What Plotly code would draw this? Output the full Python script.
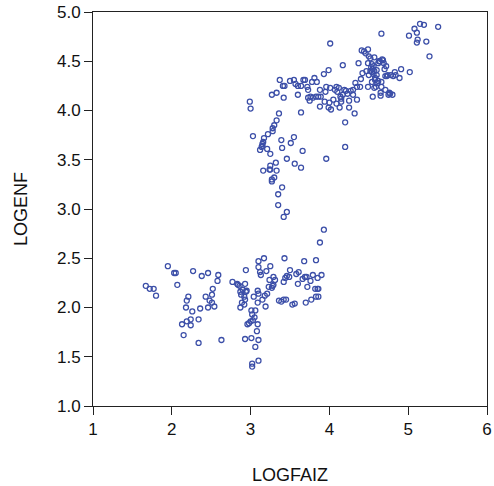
import plotly.graph_objects as go

# LOGFAIZ (x) and LOGENF (y) values
logfaiz = [
    # lower-left group
    1.67, 1.72, 1.77, 1.80, 1.95, 2.03, 2.05, 2.07, 2.13, 2.15, 2.18, 2.19, 2.19, 2.21, 2.24, 2.24,
    2.26, 2.27, 2.34, 2.34, 2.36, 2.38, 2.43, 2.46, 2.46, 2.48, 2.51, 2.51, 2.52, 2.54, 2.58, 2.59, 2.63,
    # lower-middle group
    2.77, 2.83, 2.84, 2.86, 2.87, 2.88, 2.87, 2.89, 2.90, 2.92, 2.92, 2.93, 2.93, 2.94, 2.94, 2.95,
    2.93, 2.96, 2.98, 3.00, 3.01, 3.01, 3.02, 3.03, 3.05, 3.04, 3.06, 3.06, 3.08, 3.09, 3.09, 3.09,
    3.10, 3.10, 3.02, 3.02, 3.10, 3.10, 3.10, 3.12, 3.13, 3.15, 3.17, 3.18, 3.19, 3.20, 3.21, 3.23,
    3.24, 3.25, 3.27, 3.28, 3.29, 3.29, 3.31, 3.36, 3.39, 3.42, 3.43, 3.42, 3.44, 3.45, 3.46, 3.49,
    3.50, 3.53, 3.56, 3.60, 3.58, 3.61, 3.66, 3.68, 3.69, 3.71, 3.72, 3.70, 3.76, 3.77, 3.79, 3.82,
    3.83, 3.83, 3.85, 3.85, 3.86, 3.86, 3.90, 3.88, 3.93,
    # middle vertical group
    3.35, 3.42, 3.46, 3.35, 3.40, 3.27, 3.27, 3.30, 3.16, 3.24, 3.25, 3.25, 3.33, 3.32, 3.46, 3.56,
    3.64, 3.96, 3.25, 3.12, 3.14, 3.15, 3.16, 3.15, 3.17, 3.21, 3.22, 3.03, 3.28, 3.28, 3.30, 3.33,
    3.36, 3.39, 3.40, 3.51, 3.55, 3.66, 4.20, 4.20, 3.64, 4.32,
    # upper group
    2.99, 3.00, 3.27, 3.33, 3.37, 3.41, 3.43, 3.42, 3.50, 3.55, 3.57, 3.60, 3.60, 3.64, 3.67, 3.69,
    3.72, 3.73, 3.73, 3.75, 3.76, 3.79, 3.78, 3.81, 3.84, 3.83, 3.86, 3.88, 3.88, 3.89, 3.93, 3.96,
    3.95, 3.94, 3.99, 4.01, 4.00, 3.99, 4.02, 4.01, 4.05, 4.07, 4.09, 4.10, 4.09, 4.12, 4.14, 4.13,
    4.15, 4.15, 4.17, 4.17, 4.19, 4.21, 4.23, 4.25, 4.25, 4.27, 4.30, 4.30, 4.33, 4.35, 4.35, 4.37,
    4.39, 4.40, 4.41, 4.42, 4.44, 4.46, 4.47, 4.49, 4.49, 4.49, 4.50, 4.50, 4.52, 4.52, 4.53, 4.54,
    4.54, 4.55, 4.56, 4.57, 4.57, 4.58, 4.59, 4.60, 4.61, 4.62, 4.63, 4.64, 4.65, 4.65, 4.66, 4.66,
    4.67, 4.68, 4.69, 4.70, 4.71, 4.71, 4.72, 4.73, 4.74, 4.75, 4.76, 4.77, 4.78, 4.80, 4.81, 4.83,
    4.84, 4.89, 4.91, 5.02, 4.66, 5.01, 5.08, 5.11, 5.12, 5.11, 5.15, 5.20, 5.23, 5.27, 5.38,
    4.55, 4.57, 4.56, 4.58, 4.54, 4.60, 4.62,
]

logenf = [
    # lower-left group
    2.22, 2.19, 2.19, 2.12, 2.42, 2.35, 2.35, 2.23, 1.83, 1.72, 2.00, 2.07, 1.86, 2.11, 1.82, 1.88,
    1.96, 2.37, 1.88, 1.64, 1.99, 2.32, 2.11, 2.35, 2.00, 2.07, 2.13, 2.05, 2.19, 2.01, 2.27, 2.33, 1.67,
    # lower-middle group
    2.26, 2.24, 2.23, 2.22, 2.16, 2.13, 2.00, 2.05, 2.18, 2.11, 2.03, 2.24, 2.08, 2.38, 2.16, 2.17,
    1.68, 1.83, 1.84, 1.86, 1.69, 1.97, 1.93, 1.87, 1.90, 2.11, 1.97, 1.60, 1.76, 1.83, 2.17, 2.05,
    1.67, 1.46, 1.43, 1.40, 2.14, 2.47, 2.41, 2.36, 2.33, 2.08, 2.50, 2.12, 2.01, 2.37, 2.14, 2.21,
    2.28, 2.42, 2.20, 2.22, 2.31, 2.23, 2.28, 2.07, 2.06, 2.08, 2.50, 2.26, 2.30, 2.08, 2.32, 2.31,
    2.38, 2.03, 2.04, 2.24, 2.34, 2.36, 2.29, 2.47, 2.31, 2.31, 2.21, 2.05, 2.27, 2.08, 2.33, 2.19,
    2.48, 2.11, 2.19, 2.30, 2.11, 2.19, 2.33, 2.66, 2.79,
    # middle vertical group
    3.04, 2.92, 2.97, 3.15, 3.22, 3.28, 3.30, 3.32, 3.39, 3.40, 3.44, 3.40, 3.39, 3.47, 3.51, 3.46,
    3.42, 3.51, 3.56, 3.60, 3.63, 3.64, 3.68, 3.66, 3.72, 3.61, 3.76, 3.74, 3.79, 3.82, 3.85, 3.90,
    3.97, 3.70, 3.62, 3.67, 3.73, 3.59, 3.63, 3.88, 3.98, 3.97,
    # upper group
    4.09, 4.02, 4.16, 4.18, 4.31, 4.25, 4.25, 4.13, 4.30, 4.31, 4.27, 4.16, 4.25, 4.25, 4.31, 4.31,
    4.24, 4.21, 4.13, 4.10, 4.14, 4.13, 4.29, 4.33, 4.29, 4.14, 4.14, 4.21, 4.04, 4.14, 4.37, 4.24,
    4.19, 4.09, 4.41, 4.23, 4.08, 4.03, 4.01, 4.68, 4.11, 4.21, 4.24, 4.19, 4.07, 4.23, 4.14, 4.03,
    4.09, 4.12, 4.46, 4.16, 4.21, 4.20, 4.17, 4.10, 4.03, 4.20, 4.21, 4.16, 4.28, 4.24, 4.11, 4.48,
    4.24, 4.32, 4.61, 4.38, 4.60, 4.58, 4.40, 4.62, 4.24, 4.48, 4.55, 4.36, 4.53, 4.40, 4.44, 4.39,
    4.29, 4.14, 4.45, 4.23, 4.54, 4.31, 4.24, 4.41, 4.28, 4.48, 4.50, 4.50, 4.18, 4.15, 4.29, 4.24,
    4.52, 4.51, 4.48, 4.42, 4.35, 4.21, 4.45, 4.35, 4.36, 4.16, 4.18, 4.17, 4.36, 4.16, 4.35, 4.39,
    4.36, 4.33, 4.42, 4.39, 4.78, 4.76, 4.83, 4.79, 4.72, 4.69, 4.88, 4.87, 4.70, 4.55, 4.85,
    4.42, 4.40, 4.37, 4.33, 4.47, 4.36, 4.30,
]

x_ticks = [1, 2, 3, 4, 5, 6]
y_ticks = [1.0, 1.5, 2.0, 2.5, 3.0, 3.5, 4.0, 4.5, 5.0]

fig = go.Figure(
    go.Scatter(
        x=logfaiz,
        y=logenf,
        mode="markers",
        marker=dict(
            symbol="circle-open",
            size=5,
            color="#3c4fa8",
            line=dict(width=1.3, color="#3c4fa8"),
        ),
        showlegend=False,
        cliponaxis=False,
    )
)

tick_font = dict(family="Liberation Sans, Arial, sans-serif", size=17, color="#111111")
title_font = dict(family="Liberation Sans, Arial, sans-serif", size=18, color="#111111")

fig.update_layout(
    width=494,
    height=486,
    margin=dict(l=93, r=7, t=12, b=80),
    paper_bgcolor="white",
    plot_bgcolor="white",
    font=tick_font,
    hovermode=False,
    xaxis=dict(
        range=[1, 6],
        tickvals=x_ticks,
        ticks="outside",
        ticklen=8,
        tickcolor="#222222",
        showline=True,
        linecolor="#222222",
        linewidth=1,
        mirror=True,
        showgrid=False,
        zeroline=False,
        automargin=False,
        ticklabeloverflow="allow",
        tickfont=tick_font,
        title=dict(text="LOGFAIZ", font=title_font, standoff=29),
    ),
    yaxis=dict(
        range=[1, 5],
        tickvals=y_ticks,
        tickformat=".1f",
        ticks="outside",
        ticklen=8,
        tickcolor="#222222",
        showline=True,
        linecolor="#222222",
        linewidth=1,
        mirror=True,
        showgrid=False,
        zeroline=False,
        automargin=False,
        ticklabeloverflow="allow",
        tickfont=tick_font,
        title=dict(text="LOGENF", font=title_font, standoff=24),
    ),
)

# remove the browser's default body margin so the figure fills the window exactly
fig.write_html(
    "out.html",
    config={"displayModeBar": False, "staticPlot": True},
    post_script="document.body.style.margin='0';document.body.style.overflow='hidden';",
)
